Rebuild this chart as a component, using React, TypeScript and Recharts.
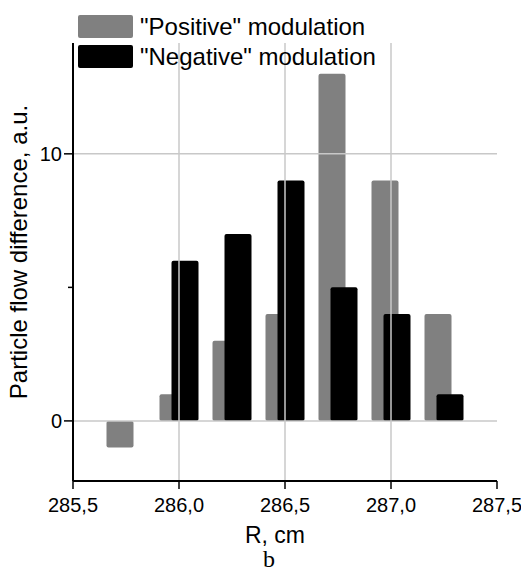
import React from 'react';
import { BarChart, Bar, XAxis, YAxis, ReferenceLine, Legend, Label } from 'recharts';

// R positions of each bar pair (cm) and the two modulation series
const rCenters = [285.75, 286.0, 286.25, 286.5, 286.75, 287.0, 287.25];
const positiveMod = [-1, 1, 3, 4, 13, 9, 4];
const negativeMod = [null, 6, 7, 9, 5, 4, 1];
const xTicks = [285.5, 286.0, 286.5, 287.0, 287.5];
const yTicks = [0, 5, 10];
const xGrid = [286.0, 286.5, 287.0];
const yGrid = [0, 10];
const legendOrder = ['pos', 'neg'];

const data = rCenters.map((r, i) => ({ r, pos: positiveMod[i], neg: negativeMod[i] }));

const FONT = '"Liberation Sans", Arial, Helvetica, sans-serif';
const GRID = '#c8c8c8';

const YTick = (props: any) => {
  const { x, y, payload } = props;
  const major = payload.value % 10 === 0;
  const axisX = x + 2 + 9;
  return (
    <g>
      <line x1={axisX - (major ? 9 : 5)} x2={axisX} y1={y} y2={y} stroke="#000" strokeWidth={1.5} />
      {major && (
        <text x={x} y={y} dy="0.36em" textAnchor="end" fontSize={20} fontFamily={FONT} fill="#000">
          {payload.value}
        </text>
      )}
    </g>
  );
};

const LegendBox = (props: any) => {
  const items = [...(props.payload || [])].sort(
    (a: any, b: any) => legendOrder.indexOf(a.dataKey) - legendOrder.indexOf(b.dataKey)
  );
  return (
    <svg width={400} height={75} style={{ display: 'block' }}>
      {items.map((it: any, i: number) => (
        <g key={i}>
          <rect x={78} y={15 + i * 30} width={55} height={23} rx={2} fill={it.color} />
          <text x={140} y={35 + i * 30} fontSize={24} fontFamily={FONT} fill="#000">
            {it.value}
          </text>
        </g>
      ))}
    </svg>
  );
};

export default function App() {
  return (
    <div style={{ position: 'absolute', left: 0, top: 0, background: '#fff' }}>
      <BarChart
        width={521}
        height={575}
        data={data}
        margin={{ top: 43, right: 24, bottom: 0, left: 0 }}
        barGap={-15}
        barSize={27}
      >
        <XAxis
          dataKey="r"
          type="number"
          domain={[285.5, 287.5]}
          ticks={xTicks}
          tickFormatter={(v: number) => v.toFixed(1).replace('.', ',')}
          height={94}
          tickSize={8}
          tickMargin={9}
          axisLine={{ stroke: '#000', strokeWidth: 2 }}
          tickLine={{ stroke: '#000', strokeWidth: 1.5 }}
          tick={{ fill: '#000', fontSize: 20, fontFamily: FONT }}
          interval={0}
        >
          <Label
            content={() => (
              <g>
                <text x={275} y={543} textAnchor="middle" fontSize={23} fontFamily={FONT} fill="#000">
                  R, cm
                </text>
                <text x={269} y={567} textAnchor="middle" fontSize={24} fontFamily='"Liberation Serif", "Times New Roman", serif' fill="#000">
                  b
                </text>
              </g>
            )}
          />
        </XAxis>
        <YAxis
          type="number"
          domain={[-2.25, 14.15]}
          ticks={yTicks}
          width={73}
          tickSize={9}
          tickMargin={2}
          tickLine={false}
          axisLine={{ stroke: '#000', strokeWidth: 2 }}
          tick={<YTick />}
          interval={0}
        >
          <Label
            content={() => (
              <text
                x={27}
                y={252}
                textAnchor="middle"
                transform="rotate(-90 27 252)"
                fontSize={24}
                fontFamily={FONT}
                fill="#000"
              >
                Particle flow difference, a.u.
              </text>
            )}
          />
        </YAxis>
        {yGrid.map((v) => (
          <ReferenceLine key={'y' + v} y={v} stroke={GRID} strokeWidth={1.5} />
        ))}
        {xGrid.map((v) => (
          <ReferenceLine key={'x' + v} x={v} stroke={GRID} strokeWidth={1.5} />
        ))}
        <Legend
          layout="vertical"
          align="center"
          verticalAlign="middle"
          wrapperStyle={{ top: 0, left: 0, width: 400, height: 75 }}
          content={<LegendBox />}
        />
        <Bar dataKey="pos" name={'"Positive" modulation'} fill="#808080" radius={2} isAnimationActive={false} />
        <Bar dataKey="neg" name={'"Negative" modulation'} fill="#000000" radius={2} isAnimationActive={false} />
      </BarChart>
    </div>
  );
}
